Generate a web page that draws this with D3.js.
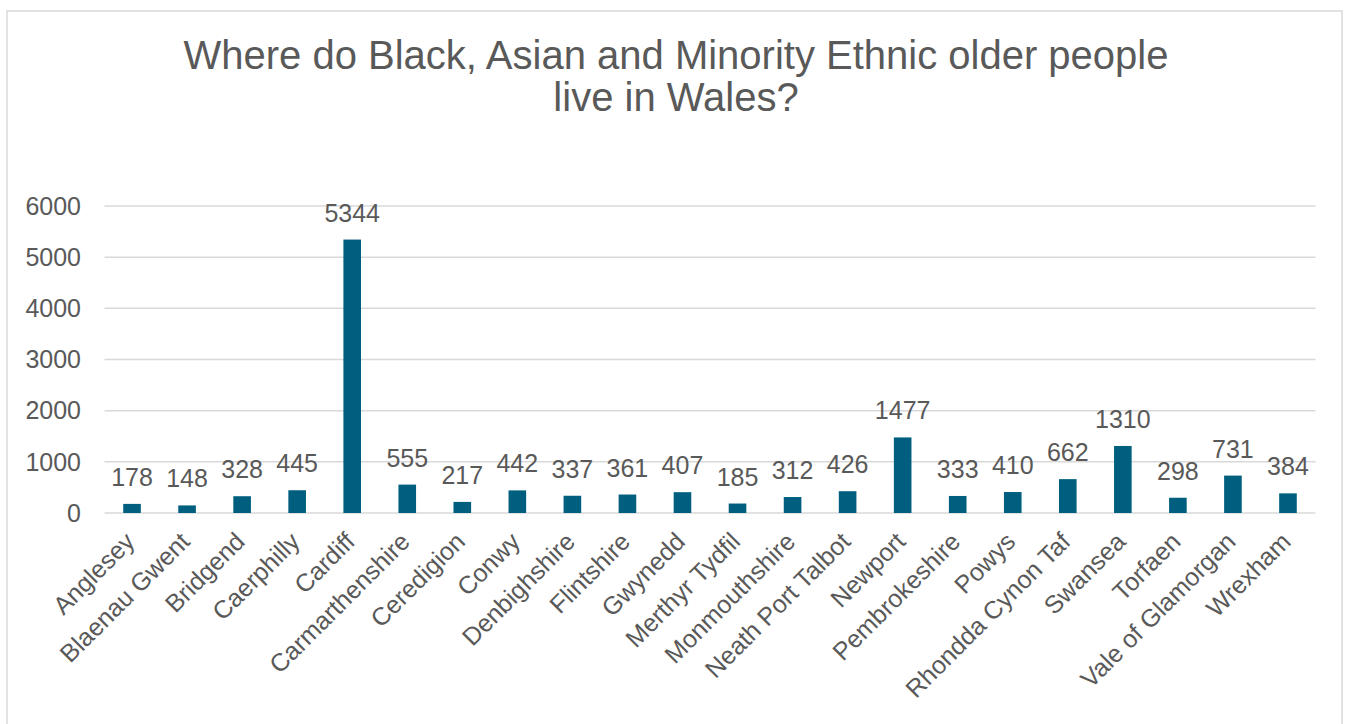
<!DOCTYPE html>
<html>
<head>
    <meta charset="utf-8">
    <script src="https://d3js.org/d3.v7.min.js"></script>
    <style>
      body { margin: 0; background: #fff; }
      text { font-family: "Liberation Sans", Arial, sans-serif; fill: #595959; }
    </style>
</head>
<body>
    <script>
      // data
      const areas = ['Anglesey', 'Blaenau Gwent', 'Bridgend', 'Caerphilly', 'Cardiff', 'Carmarthenshire',
        'Ceredigion', 'Conwy', 'Denbighshire', 'Flintshire', 'Gwynedd', 'Merthyr Tydfil', 'Monmouthshire',
        'Neath Port Talbot', 'Newport', 'Pembrokeshire', 'Powys', 'Rhondda Cynon Taf', 'Swansea',
        'Torfaen', 'Vale of Glamorgan', 'Wrexham'];
      const people = [178, 148, 328, 445, 5344, 555, 217, 442, 337, 361, 407, 185, 312, 426, 1477,
        333, 410, 662, 1310, 298, 731, 384];
      const yTicks = [0, 1000, 2000, 3000, 4000, 5000, 6000];
      const titleLines = ['Where do Black, Asian and Minority Ethnic older people', 'live in Wales?'];

      const width = 1347, height = 724;
      const svg = d3.select('body').append('svg')
          .attr('width', width)
          .attr('height', height);

      // chart border
      svg.append('rect')
          .attr('x', 7).attr('y', 11)
          .attr('width', 1335).attr('height', 730)
          .attr('fill', 'none')
          .attr('stroke', '#d9d9d9')
          .attr('stroke-width', 1.5);

      // title
      svg.append('text')
          .attr('x', 676)
          .attr('y', 69)
          .attr('text-anchor', 'middle')
          .style('font-size', '40px')
          .selectAll('tspan')
          .data(titleLines)
          .enter().append('tspan')
          .attr('x', 676)
          .attr('dy', (d, i) => i ? 42 : 0)
          .text(d => d);

      const x = d3.scaleBand()
          .domain(areas)
          .range([104.5, 1315.5])
          .paddingInner(0.68)
          .paddingOuter(0.34);

      const y = d3.scaleLinear()
          .domain([0, 6000])
          .range([513, 206]);

      // gridlines
      svg.append('g')
          .selectAll('line')
          .data(yTicks)
          .enter().append('line')
          .attr('x1', 104.5).attr('x2', 1315.5)
          .attr('y1', d => y(d)).attr('y2', d => y(d))
          .attr('stroke', '#d9d9d9')
          .attr('stroke-width', 1.5);

      // y tick labels
      svg.append('g')
          .selectAll('text')
          .data(yTicks)
          .enter().append('text')
          .attr('x', 81)
          .attr('y', d => y(d))
          .attr('dy', '0.35em')
          .attr('text-anchor', 'end')
          .style('font-size', '25px')
          .text(d => d);

      // bars
      svg.append('g')
          .selectAll('rect')
          .data(areas)
          .enter().append('rect')
          .attr('x', d => x(d))
          .attr('width', x.bandwidth())
          .attr('y', (d, i) => y(people[i]))
          .attr('height', (d, i) => y(0) - y(people[i]))
          .attr('fill', '#005f7f');

      // value labels
      svg.append('g')
          .selectAll('text')
          .data(areas)
          .enter().append('text')
          .attr('x', d => x(d) + x.bandwidth() / 2)
          .attr('y', (d, i) => y(people[i]) - 18)
          .attr('text-anchor', 'middle')
          .style('font-size', '25px')
          .text((d, i) => people[i]);

      // category labels
      svg.append('g')
          .selectAll('text')
          .data(areas)
          .enter().append('text')
          .attr('transform', d => `translate(${x(d) + x.bandwidth() / 2 - 2},537) rotate(-45)`)
          .attr('dy', '0.35em')
          .attr('text-anchor', 'end')
          .style('font-size', '25px')
          .text(d => d);
    </script>
</body>
</html>
